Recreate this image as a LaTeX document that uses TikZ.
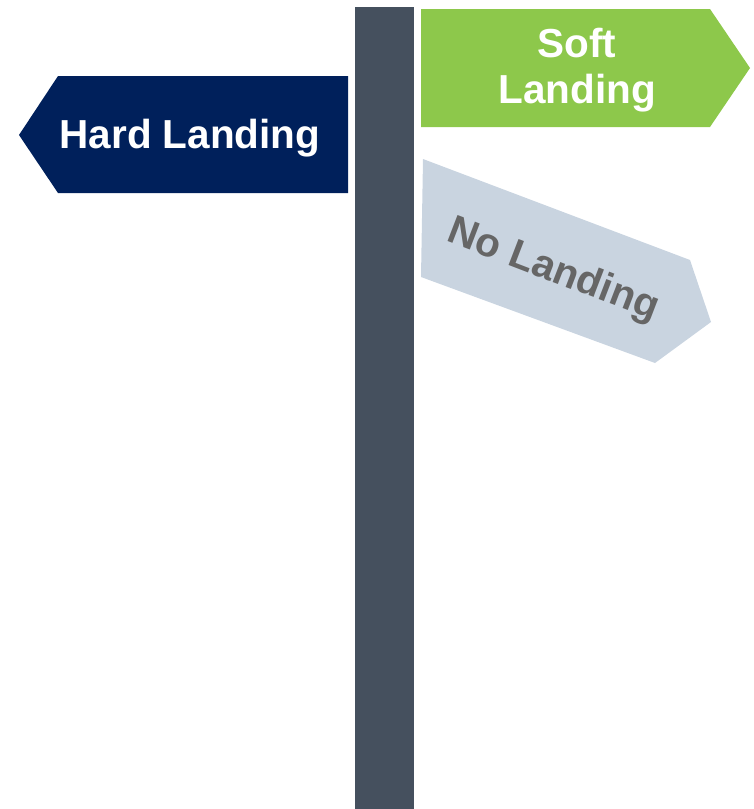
\documentclass[tikz,border=0pt]{standalone}
\usepackage{fontspec}
\setmainfont{Liberation Sans}
\usetikzlibrary{positioning}
\definecolor{poleGrey}{HTML}{45505E}
\definecolor{hardBlue}{HTML}{00205B}
\definecolor{softGreen}{HTML}{8DC84B}
\definecolor{noBlue}{HTML}{C9D4E0}
\definecolor{noText}{HTML}{666666}
\tikzset{signtext/.style = {font=\fontsize{40.5}{46}\selectfont\bfseries, inner sep=0pt, align=center}}
\tikzset{hardtext/.style = {signtext, text=white}}
\tikzset{softtext/.style = {signtext, text=white}}
\tikzset{notext/.style   = {signtext, text=noText}}

\begin{document}
\begin{tikzpicture}[x=1pt, y=-1pt]
    \useasboundingbox (0,0) rectangle (754,809);
    % post
    \fill[poleGrey] (355,7) rectangle (414,809);
    % the three boards
    \fill[hardBlue] (58,76) -- (348,76) -- (348,193) -- (58,193) -- (19,135) -- cycle;
    \fill[softGreen] (421,9) -- (710,9) -- (750,68) -- (710,127) -- (421,127) -- cycle;
    \fill[noBlue] (423,159) -- (690,260) -- (711,322) -- (655,363) -- (421,277) -- cycle;
    \node[hardtext, anchor=base](hard) at (190,148) {Hard Landing};
    \node[softtext, anchor=base](soft) at (577,103) {Soft\\Landing};
    \node[notext, rotate=-21](none) at (553,271) {No Landing};
\end{tikzpicture}
\end{document}
